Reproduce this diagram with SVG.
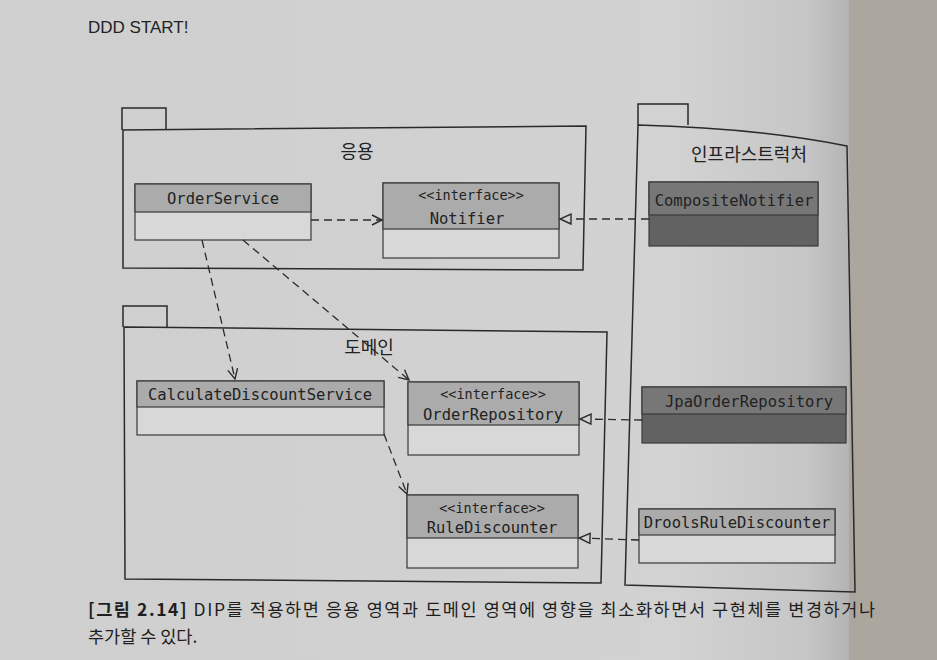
<svg xmlns="http://www.w3.org/2000/svg" width="937" height="660" viewBox="0 0 937 660">
  <defs>
    <linearGradient id="page" x1="0" y1="0" x2="1" y2="0">
      <stop offset="0" stop-color="#cfcfcf"/>
      <stop offset="0.8" stop-color="#d2d2d2"/>
      <stop offset="0.95" stop-color="#c6c6c6"/>
      <stop offset="1" stop-color="#b4b4b4"/>
    </linearGradient>
    <marker id="open" markerUnits="userSpaceOnUse" markerWidth="14" markerHeight="14" refX="11" refY="6" orient="auto">
      <path d="M1,1 L11,6 L1,11" fill="none" stroke="#2b2b2b" stroke-width="1.4"/>
    </marker>
    <marker id="tri" markerUnits="userSpaceOnUse" markerWidth="14" markerHeight="14" refX="12" refY="6" orient="auto">
      <path d="M1,1 L12,6 L1,11 Z" fill="#d2d2d2" stroke="#2b2b2b" stroke-width="1.4"/>
    </marker>
  </defs>
  <style>
    .pkg { fill: none; stroke: #2a2a2a; stroke-width: 1.5; }
    .ptitle { font-family: "Noto Sans CJK KR", "Noto Sans", sans-serif; font-size: 18px; fill: #222; text-anchor: middle; }
    .hdr { fill: #ababab; stroke: #3a3a3a; stroke-width: 1.2; }
    .bdy { fill: #d8d8d8; stroke: #3a3a3a; stroke-width: 1.2; }
    .dhdr { fill: #777777; stroke: #3a3a3a; stroke-width: 1.2; }
    .dbdy { fill: #626262; stroke: #3a3a3a; stroke-width: 1.2; }
    .cname { font-family: "DejaVu Sans Mono", "Liberation Mono", monospace; font-size: 15.5px; fill: #222; text-anchor: middle; }
    .stereo { font-family: "DejaVu Sans Mono", "Liberation Mono", monospace; font-size: 13.5px; fill: #222; text-anchor: middle; }
    .dep { fill: none; stroke: #2b2b2b; stroke-width: 1.3; stroke-dasharray: 8 5; }
    .cap { font-family: "Noto Sans CJK KR", "Noto Sans", sans-serif; font-size: 17.5px; fill: #1e1e1e; }
  </style>

  <rect x="0" y="0" width="849" height="660" fill="url(#page)"/>
  <rect x="849" y="0" width="88" height="660" fill="#aba79f"/>

  <text x="88" y="33" font-family="Liberation Sans, Arial, sans-serif" font-size="17" fill="#222">DDD START!</text>

  <g id="pkg-application">
    <path class="pkg" d="M122,130 L122,108 L166,108 L166,130"/>
    <path class="pkg" d="M123,130 L586,126 L583,270 L123,268 Z"/>
    <text class="ptitle" x="357" y="158">응용</text>
  </g>

  <g id="pkg-domain">
    <path class="pkg" d="M123,327 L123,306 L167,306 L167,327"/>
    <path class="pkg" d="M124,327 L607,332 L601,583 L125,579 Z"/>
    <text class="ptitle" x="369" y="354">도메인</text>
  </g>

  <g id="pkg-infra">
    <path class="pkg" d="M638,125 L638,104 L688,104 L688,125"/>
    <path class="pkg" d="M638,125 Q757,128 847,146 L855,592 L625,585 Z"/>
    <text class="ptitle" x="749" y="161">인프라스트럭처</text>
  </g>

  <g id="OrderService">
    <rect class="bdy" x="135" y="184" width="176" height="56"/>
    <rect class="hdr" x="135" y="184" width="176" height="28"/>
    <text class="cname" x="223" y="204">OrderService</text>
  </g>

  <g id="Notifier">
    <rect class="bdy" x="383" y="183" width="176" height="75"/>
    <rect class="hdr" x="383" y="183" width="176" height="46"/>
    <text class="stereo" x="471" y="200">&lt;&lt;interface&gt;&gt;</text>
    <text class="cname" x="467" y="224">Notifier</text>
  </g>

  <g id="CompositeNotifier">
    <rect class="dbdy" x="649" y="182" width="169" height="64"/>
    <rect class="dhdr" x="649" y="182" width="169" height="33"/>
    <text class="cname" x="734" y="206">CompositeNotifier</text>
  </g>

  <g id="CalculateDiscountService">
    <rect class="bdy" x="137" y="381" width="247" height="54"/>
    <rect class="hdr" x="137" y="381" width="247" height="26"/>
    <text class="cname" x="260" y="400">CalculateDiscountService</text>
  </g>

  <g id="OrderRepository">
    <rect class="bdy" x="408" y="382" width="171" height="73"/>
    <rect class="hdr" x="408" y="382" width="171" height="43"/>
    <text class="stereo" x="493" y="399">&lt;&lt;interface&gt;&gt;</text>
    <text class="cname" x="493" y="420">OrderRepository</text>
  </g>

  <g id="RuleDiscounter">
    <rect class="bdy" x="407" y="495" width="171" height="73"/>
    <rect class="hdr" x="407" y="495" width="171" height="43"/>
    <text class="stereo" x="492" y="513">&lt;&lt;interface&gt;&gt;</text>
    <text class="cname" x="492" y="533">RuleDiscounter</text>
  </g>

  <g id="JpaOrderRepository">
    <rect class="dbdy" x="642" y="387" width="204" height="56"/>
    <rect class="dhdr" x="642" y="387" width="204" height="27"/>
    <text class="cname" x="749" y="407">JpaOrderRepository</text>
  </g>

  <g id="DroolsRuleDiscounter">
    <rect class="bdy" x="639" y="509" width="196" height="54"/>
    <rect class="hdr" x="639" y="509" width="196" height="26"/>
    <text class="cname" x="737" y="528">DroolsRuleDiscounter</text>
  </g>

  <g id="connectors">
    <line class="dep" x1="311" y1="220" x2="382" y2="220" marker-end="url(#open)"/>
    <line class="dep" x1="202" y1="240" x2="235" y2="379" marker-end="url(#open)"/>
    <line class="dep" x1="243" y1="240" x2="409" y2="380" marker-end="url(#open)"/>
    <line class="dep" x1="384" y1="434" x2="407" y2="494" marker-end="url(#open)"/>
    <line class="dep" x1="649" y1="219" x2="560" y2="219" marker-end="url(#tri)"/>
    <line class="dep" x1="642" y1="420" x2="580" y2="419" marker-end="url(#tri)"/>
    <line class="dep" x1="639" y1="540" x2="579" y2="538" marker-end="url(#tri)"/>
  </g>

  <text class="cap" x="88" y="616" textLength="787" lengthAdjust="spacing"><tspan font-weight="bold">[그림 2.14]</tspan> DIP를 적용하면 응용 영역과 도메인 영역에 영향을 최소화하면서 구현체를 변경하거나</text>
  <text class="cap" x="88" y="643">추가할 수 있다.</text>
</svg>
